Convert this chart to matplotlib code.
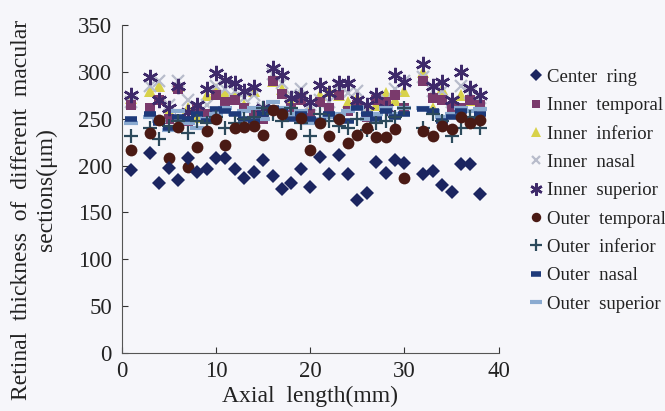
import matplotlib
matplotlib.use("Agg")
import matplotlib.pyplot as plt

plt.rcParams['font.family'] = ['Liberation Serif', 'DejaVu Serif']

axial = [1, 3, 4, 5, 6, 7, 8, 9, 10, 11, 12, 13, 14, 15, 16, 17, 18, 19, 20,
         21, 22, 23, 24, 25, 26, 27, 28, 29, 30, 32, 33, 34, 35, 36, 37, 38]

center_ring = [195, 213, 182, 197, 185, 208, 193, 196, 208, 208, 196, 187, 193, 206, 189, 175, 182, 196,
               177, 209, 191, 211, 191, 163, 171, 204, 192, 206, 203, 191, 194, 179, 172, 202, 202, 170]
inner_temporal = [265, 262, 270, 250, 282, 248, 262, 255, 275, 268, 270, 262, 258, 250, 290, 276, 262, 270,
                  255, 268, 262, 275, 258, 265, 252, 270, 268, 275, 262, 290, 272, 270, 262, 262, 270, 265]
inner_inferior = [272, 280, 285, 258, 285, 262, 252, 275, 282, 278, 275, 265, 280, 258, 290, 282, 268, 278,
                  262, 275, 280, 275, 268, 272, 260, 265, 278, 270, 280, 300, 262, 282, 258, 275, 270, 268]
inner_nasal = [268, 285, 290, 265, 290, 270, 262, 265, 285, 282, 280, 272, 275, 262, 298, 288, 275, 282,
               265, 270, 268, 285, 278, 280, 262, 272, 270, 282, 290, 295, 280, 280, 268, 285, 278, 272]
inner_superior = [275, 295, 270, 261, 285, 257, 265, 282, 299, 291, 288, 280, 284, 261, 304, 297, 272, 275,
                  268, 286, 278, 288, 288, 270, 265, 275, 262, 297, 289, 308, 285, 289, 270, 300, 283, 275]
outer_temporal = [217, 235, 249, 208, 241, 199, 220, 237, 250, 222, 240, 241, 242, 233, 259, 255, 234, 251,
                  217, 245, 232, 250, 224, 233, 240, 231, 231, 239, 187, 237, 232, 242, 239, 252, 245, 249]
outer_inferior = [232, 240, 228, 242, 248, 235, 248, 245, 252, 240, 245, 250, 252, 262, 255, 248, 262, 245,
                  232, 255, 248, 242, 240, 250, 238, 245, 248, 252, 262, 240, 255, 248, 232, 240, 252, 240]
outer_nasal = [250, 255, 245, 240, 252, 250, 255, 248, 260, 258, 255, 250, 248, 255, 262, 258, 250, 255,
               250, 248, 255, 250, 248, 262, 255, 250, 258, 252, 255, 260, 258, 248, 252, 258, 250, 255]
outer_superior = [245, 252, 248, 238, 258, 245, 240, 250, 255, 262, 255, 258, 262, 250, 268, 262, 255, 258,
                  245, 250, 252, 255, 258, 262, 250, 255, 262, 255, 262, 262, 258, 252, 255, 262, 258, 260]

labels = ["Center  ring", "Inner  temporal", "Inner  inferior", "Inner  nasal", "Inner  superior",
          "Outer  temporal", "Outer  inferior", "Outer  nasal", "Outer  superior"]

x_ticks = [0, 10, 20, 30, 40]
y_ticks = [0, 50, 100, 150, 200, 250, 300, 350]

W, H = 665, 411
bg = "#F6F6FA"
fig = plt.figure(figsize=(W / 100, H / 100), dpi=100, facecolor=bg)
ax = fig.add_axes([0.183, 0.141, 0.567, 0.798], facecolor=bg)

styles = [
    (center_ring, dict(marker='D', color='#1B2560', ms=7.5, mew=0)),
    (inner_temporal, dict(marker='s', color='#7A3A6C', ms=7.5, mew=0)),
    (inner_inferior, dict(marker='^', color='#D8D24A', ms=8.5, mew=0)),
    (inner_nasal, dict(marker='x', color='#B8BCCB', ms=8, mew=1.6)),
    (inner_superior, dict(marker=(6, 2, 0), color='#3E2A6A', ms=11, mew=1.8)),
    (outer_temporal, dict(marker='o', color='#4A1A14', ms=8.5, mew=0)),
    (outer_inferior, dict(marker='+', color='#2C4A5C', ms=10, mew=1.6)),
    (outer_nasal, dict(marker='_', color='#1E3A7A', ms=9, mew=4)),
    (outer_superior, dict(marker='_', color='#8AAAD0', ms=10, mew=3)),
]

order = [2, 3, 1, 4, 8, 7, 6, 5, 0]
handles = [None] * len(styles)
for i in order:
    vals, st = styles[i]
    h, = ax.plot(axial, vals, linestyle='none', label=labels[i], **st)
    handles[i] = h

ax.set_xlim(0, 40)
ax.set_ylim(0, 350)
ax.set_xticks(x_ticks)
ax.set_yticks(y_ticks)
ax.tick_params(direction='in', labelsize=16.5, length=4, width=0.8, colors='#333333')
ax.tick_params(axis='y', pad=7)
ax.tick_params(axis='x', pad=6)
for lab in ax.get_xticklabels() + ax.get_yticklabels():
    lab.set_color('#222222')
for s in ['top', 'right']:
    ax.spines[s].set_visible(False)
for s in ['left', 'bottom']:
    ax.spines[s].set_color('#555555')
    ax.spines[s].set_linewidth(0.8)

ax.set_xlabel("Axial  length(mm)", fontsize=17, labelpad=0, color='#222222')
ax.xaxis.set_label_coords(0.5, -0.10)

fig.text(22 / W, 1 - 210 / H, "Retinal  thickness  of  different  macular", rotation=90,
         ha='center', va='center', fontsize=17, color='#222222')
fig.text(46 / W, 1 - 190 / H, "sections(μm)", rotation=90,
         ha='center', va='center', fontsize=17, color='#222222')

leg = ax.legend(handles=handles, labels=labels, loc='upper left', bbox_to_anchor=(1.065, 0.89),
                frameon=False, fontsize=13.5, handlelength=0.6, handletextpad=0.25,
                labelspacing=0.6, borderaxespad=0, markerscale=0.8)
for t in leg.get_texts():
    t.set_color('#222222')

fig.savefig("out.png", dpi=100, facecolor=bg)
